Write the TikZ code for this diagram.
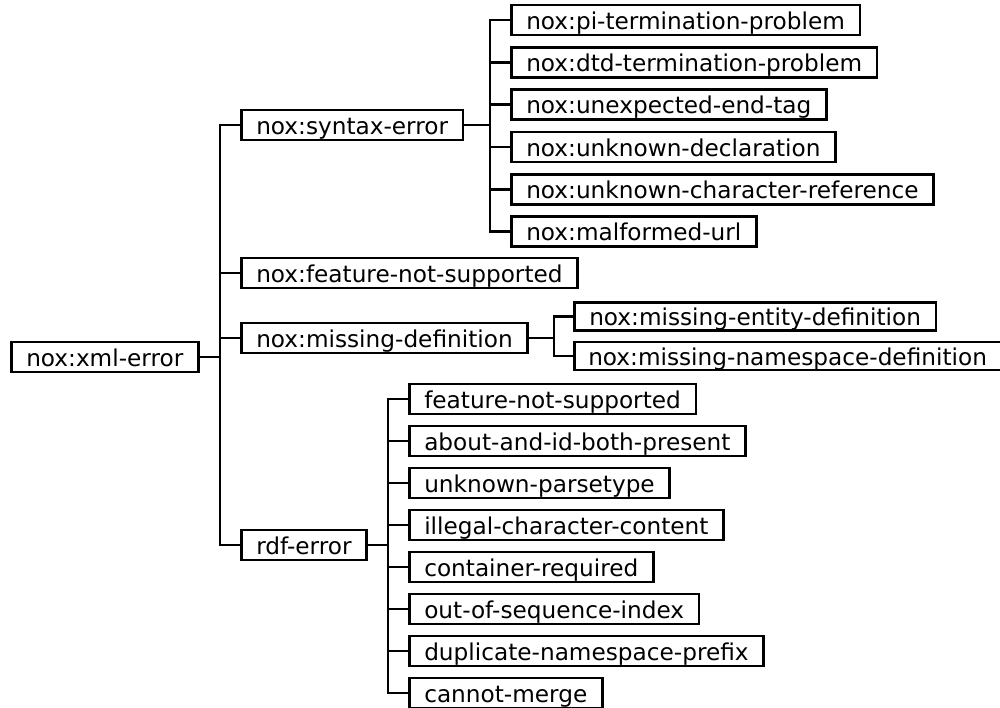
\documentclass[tikz,border=0pt]{standalone}
\usepackage{fontspec}
\setmainfont{DejaVu Sans}
\begin{document}
\begin{tikzpicture}[x=0.5pt,y=-0.5pt,
  box/.style={draw, line width=1.25pt, anchor=west, minimum height=15pt, inner ysep=0pt, inner xsep=7.5pt, text height=10pt, text depth=1pt, font=\fontsize{11.6}{14}\selectfont},
  conn/.style={line width=1.25pt, line join=miter}]
\useasboundingbox (0,0) rectangle (1000,707);
% root
\node[box] (root) at (10,357) {nox:xml-error};
% level 1
\node[box] (syn)  at (240,125) {nox:syntax-error};
\node[box] (feat) at (240,273) {nox:feature-not-supported};
\node[box] (mdef) at (240,338) {nox:missing-definition};
\node[box] (rdf)  at (240,545) {rdf-error};
% syntax children
\node[box] (s1) at (510,20)    {nox:pi-termination-problem};
\node[box] (s2) at (510,62.3)  {nox:dtd-termination-problem};
\node[box] (s3) at (510,104.6) {nox:unexpected-end-tag};
\node[box] (s4) at (510,147)   {nox:unknown-declaration};
\node[box] (s5) at (510,189.3) {nox:unknown-character-reference};
\node[box] (s6) at (510,231.6) {nox:malformed-url};
% missing-definition children
\node[box, minimum height=14pt] (m1) at (573,316.5) {nox:missing-entity-definition};
\node[box, minimum height=14pt, inner xsep=7pt] (m2) at (573,356) {nox:missing-namespace-definition};
% rdf children
\node[box] (r1) at (408,399) {feature-not-supported};
\node[box] (r2) at (408,441) {about-and-id-both-present};
\node[box] (r3) at (408,483) {unknown-parsetype};
\node[box] (r4) at (408,525) {illegal-character-content};
\node[box] (r5) at (408,567) {container-required};
\node[box] (r6) at (408,609) {out-of-sequence-index};
\node[box] (r7) at (408,651) {duplicate-namespace-prefix};
\node[box] (r8) at (408,693) {cannot-merge};
% trunk positions
\coordinate (t0) at (220,0);
\coordinate (t1) at (490,0);
\coordinate (t2) at (554,0);
\coordinate (t3) at (388,0);
% connectors
\foreach \c in {syn,feat,mdef,rdf}
  \draw[conn] (root.east) -| (\c.west -| t0) -- (\c.west);
\foreach \c in {s1,s2,s3,s4,s5,s6}
  \draw[conn] (syn.east) -| (\c.west -| t1) -- (\c.west);
\foreach \c in {m1,m2}
  \draw[conn] (mdef.east) -| (\c.west -| t2) -- (\c.west);
\foreach \c in {r1,r2,r3,r4,r5,r6,r7,r8}
  \draw[conn] (rdf.east) -| (\c.west -| t3) -- (\c.west);
\end{tikzpicture}
\end{document}
